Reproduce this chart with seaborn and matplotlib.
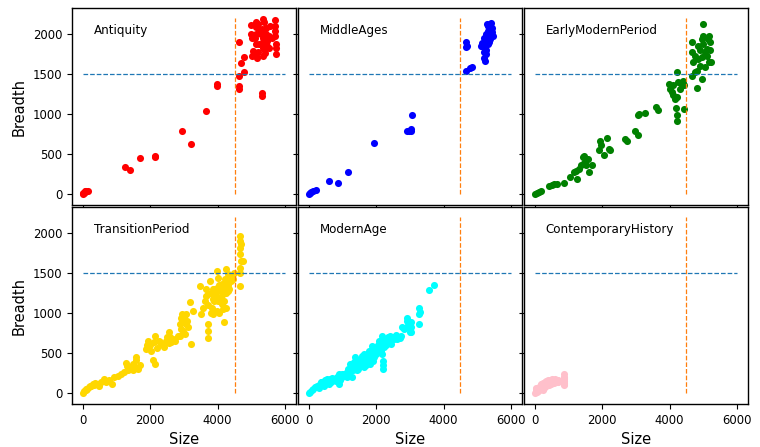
import matplotlib
matplotlib.use("Agg")
import matplotlib.pyplot as plt
import seaborn as sns
import pandas as pd

periods = ["Antiquity", "MiddleAges", "EarlyModernPeriod",
           "TransitionPeriod", "ModernAge", "ContemporaryHistory"]
colors = ["red", "blue", "green", "gold", "cyan", "pink"]

ant_x = [0, 20, 30, 60, 80, 100, 150, 1250, 1400, 1710, 2130, 2150, 2930, 3200, 3650,
         3970, 3970, 4620, 4620, 4645, 4780, 4690, 4790, 4620, 5300, 5300,
         4980, 5030, 5140, 5210, 5330, 5330, 5425, 5425, 5520, 5690, 5690, 5690, 5690,
         5720, 5720, 5720, 5330, 5130, 5180, 5330, 5380, 5230, 5425, 5030, 5475, 5330,
         5520, 5280, 5310, 5380, 5130,
         5000, 5100, 5150, 5250, 5350, 5450, 5550, 5600, 5050, 5200, 5400, 5150]
ant_y = [0, 5, 10, 20, 40, 30, 35, 340, 295, 445, 475, 460, 785, 620, 1035,
         1370, 1345, 1305, 1350, 1470, 1525, 1635, 1710, 1890, 1255, 1225,
         2110, 1940, 2085, 2115, 2180, 2015, 2075, 1990, 1970, 2165, 2095, 2035, 1970,
         1875, 1820, 1750, 1825, 1745, 1700, 1720, 1805, 1870, 1890, 1720, 1910, 1950,
         1825, 1990, 2060, 2150, 2000,
         2000, 1950, 2150, 2050, 1900, 1850, 2100, 1950, 1780, 1770, 1760, 1870]

mid_x = [0, 30, 70, 120, 220, 600, 860, 1170, 1940, 3060, 2920, 2960, 3020, 3040,
         4650, 4650, 4700, 4650, 4770, 4830,
         5320, 5370, 5420, 5320, 5270, 5220, 5120, 5240, 5270, 5220, 5200, 5370, 5470,
         5320, 5420, 5400, 5300, 5250,
         5300, 5350, 5250, 5200, 5150, 5350, 5250, 5200, 5150]
mid_y = [0, 10, 20, 30, 50, 165, 135, 270, 635, 990, 780, 790, 810, 790,
         1890, 1835, 1850, 1535, 1577, 1580,
         2095, 2115, 2075, 2035, 1970, 1910, 1845, 1825, 1745, 1660, 1765, 1930, 1970,
         1870, 2015, 2135, 1980, 1880,
         2120, 2080, 2000, 1950, 1880, 1900, 1800, 1700, 1850]

emp_x = [0, 60, 130, 200, 430, 500, 580, 660, 860, 1055, 1175, 1255, 1225,
         1375, 1475, 1425, 1570, 1520, 1620, 1700, 1475, 1325,
         1920, 1970, 1950, 2130, 2190, 2050, 2220,
         2670, 2745, 2965, 3065, 3065, 3085, 3285, 3590, 3660,
         3990, 4010, 4060, 4110, 4160, 4210, 4180, 4210, 4210, 4230, 4260, 4310, 4420,
         4400, 4440, 4360, 4110,
         4805, 4965, 4655, 4655, 4705, 4755, 4675, 4855, 4955, 5005, 5155, 5205, 5205,
         5155, 5055, 4955, 4855, 4755, 5005, 5105, 4905, 4805, 5055, 5005, 5235, 5150,
         4900, 5100]
emp_y = [0, 12, 25, 33, 100, 115, 120, 125, 135, 210, 275, 180, 285,
         355, 385, 460, 440, 365, 275, 365, 470, 315,
         545, 605, 655, 700, 565, 480, 550,
         690, 655, 780, 730, 980, 1000, 1010, 1080, 1050,
         1375, 1310, 1270, 1230, 1185, 1210, 1070, 990, 915, 1525, 1395, 1310, 1055,
         1415, 1360, 1355, 1355,
         1325, 1430, 1890, 1770, 1645, 1520, 1475, 1850, 1935, 1975, 1975, 1890, 1790,
         1645, 1580, 1705, 1685, 1725, 2120, 1810, 1600, 1540, 1770, 1870, 1650, 1930,
         1800, 1720]

tra_x = [0, 40, 90, 140, 190, 240, 290, 360, 440, 540, 640, 690, 790, 860, 935, 1035,
         1135, 1235, 1285, 1335, 1435, 1485, 1530, 1580, 1630, 1580, 100, 200, 330, 480,
         1880, 1930, 2010, 2080, 2130, 2150, 2250, 2330, 2410, 2480, 2550, 2630, 2680,
         2730, 2810, 2875, 2925, 2945, 3025, 3075, 3125, 3205, 3175, 3275, 3025, 2975,
         2875, 2300, 2600,
         3570, 3620, 3640, 3720, 3770, 3700, 3720, 3720, 3820, 3870, 3920, 3970, 3970,
         4020, 4020, 4070, 4120, 4120, 4170, 4190, 4220, 4240, 4270, 4320, 4320, 4370,
         4420, 3970, 4240, 4470, 3470, 3520, 3870, 4100, 4250, 3900,
         4670, 4670, 4670, 4670, 4700, 4740, 4670, 4670, 4650, 4680,
         2900, 2950, 3000, 3050, 3100, 2000, 2100, 1900, 2200, 2500, 2550, 1700, 1500,
         1400, 1300, 3700, 3800, 3850, 3900, 3950, 4050, 4100, 4150, 4200, 4250, 4300,
         4350, 4400, 4150, 4050, 3800, 3650, 4450]
tra_y = [0, 20, 35, 50, 70, 90, 110, 120, 110, 135, 175, 135, 155, 110, 195, 215,
         235, 255, 370, 285, 320, 360, 320, 405, 300, 445, 50, 80, 100, 90,
         550, 650, 525, 405, 360, 715, 650, 610, 570, 650, 755, 630, 670,
         650, 715, 860, 940, 985, 900, 985, 820, 610, 1130, 1025, 735, 775,
         715, 640, 700,
         1065, 1150, 1210, 1235, 1400, 860, 775, 690, 1065, 1170, 1235, 1315, 1025,
         1150, 1440, 1275, 1355, 1110, 1235, 880, 1420, 1065, 1315, 1480, 1275, 1420,
         1460, 1525, 1545, 1500, 1335, 985, 985, 1200, 1380, 1300,
         1960, 1895, 1815, 1730, 1650, 1650, 1565, 1500, 1330, 1860,
         800, 880, 950, 860, 900, 600, 640, 600, 560, 700, 620, 350, 280,
         300, 330, 1100, 1250, 1300, 1150, 1200, 1350, 1200, 1300, 1150, 1250, 1350,
         1300, 1400, 1050, 1000, 1000, 1300, 1420]

mod_x = [0, 40, 90, 140, 190, 240, 320, 390, 440, 490, 590, 640, 740, 840, 885, 935,
         985, 1085, 1135, 1185, 1235, 1285, 1335, 1385, 1435, 1485, 1530, 1580, 1630,
         1630, 1680, 1730, 1780, 1830, 1880, 1930, 1980, 2030, 2080, 2130, 2180, 2180,
         2210, 2230, 2280, 2330, 2410, 2450, 2480, 2530, 2630, 2730, 2780, 2830, 2925,
         2975, 3005, 3025, 3045, 3275, 3275, 3300, 3275, 3570, 3720, 1050, 1250, 1500,
         1700, 1900, 2000, 2100,
         300, 350, 450, 550, 650, 700, 800, 900, 950, 1100, 1150, 1200, 1300, 1350,
         1400, 1450, 1550, 1600, 1650, 1700, 1750, 1800, 1850, 1900, 1950, 2000, 2050,
         2100, 2150, 2200, 2250, 2300, 2350, 2400, 2600, 2700, 2900, 2950, 3000, 3020,
         2200, 2210]
mod_y = [0, 10, 30, 50, 70, 90, 110, 135, 90, 155, 110, 175, 155, 195, 110, 155,
         235, 215, 195, 255, 360, 195, 320, 445, 280, 405, 360, 465, 320,
         405, 445, 405, 525, 360, 590, 445, 485, 570, 650, 525, 715, 485,
         300, 570, 610, 650, 715, 610, 695, 670, 670, 715, 820, 795, 940,
         880, 755, 820, 880, 1065, 985, 1005, 860, 1280, 1350, 230, 280, 350,
         420, 480, 560, 600,
         60, 140, 100, 170, 130, 190, 150, 230, 180, 250, 300, 210, 280, 380,
         330, 300, 420, 380, 480, 350, 460, 440, 520, 400, 560, 520, 600,
         640, 560, 620, 660, 600, 700, 680, 720, 680, 900, 850, 800, 760,
         350, 400]

con_x = [0, 30, 60, 80, 100, 120, 150, 180, 200, 230, 250, 260, 280, 300, 320, 350,
         380, 400, 420, 450, 480, 500, 520, 560, 600, 640, 650, 680, 860, 860, 870,
         860, 880,
         50, 100, 150, 200, 250, 300, 350, 400, 450, 500, 550, 600, 650, 700, 40,
         860, 880, 850, 870]
con_y = [0, 20, 10, 40, 60, 30, 60, 50, 110, 70, 40, 100, 60, 140, 110, 90,
         120, 160, 100, 130, 110, 170, 140, 120, 175, 130, 165, 140, 100, 150, 200,
         230, 120,
         50, 20, 90, 60, 120, 90, 150, 120, 160, 130, 160, 150, 140, 160, 60,
         180, 170, 130, 110]

xs = [ant_x, mid_x, emp_x, tra_x, mod_x, con_x]
ys = [ant_y, mid_y, emp_y, tra_y, mod_y, con_y]

rows = []
for p, xv, yv in zip(periods, xs, ys):
    for a, b in zip(xv, yv):
        rows.append((p, a, b))
df = pd.DataFrame(rows, columns=["Period", "Size", "Breadth"])

plt.rcParams["font.family"] = ["DejaVu Sans"]
fig, axes = plt.subplots(2, 3, figsize=(7.6, 4.47), dpi=100, sharex=True, sharey=True)
fig.subplots_adjust(left=0.0947, right=0.984, top=0.982, bottom=0.096,
                    wspace=0.009, hspace=0.01)

for ax, p, c in zip(axes.flat, periods, colors):
    sub = df[df["Period"] == p]
    sns.scatterplot(data=sub, x="Size", y="Breadth", ax=ax, color=c,
                    s=26, linewidth=0, alpha=1)
    ax.hlines(1500, 0, 6000, colors="tab:blue", linestyles="--", linewidth=0.9)
    ax.vlines(4500, 0, 2200, colors="tab:orange", linestyles="--", linewidth=0.9)
    ax.text(320, 2000, p, fontsize=8.6)
    ax.set_xlabel("")
    ax.set_ylabel("")
    ax.tick_params(labelsize=8.4, width=0.8, length=3.5)
    for sp in ax.spines.values():
        sp.set_linewidth(1.0)
        sp.set_color("black")

ax0 = axes[0, 0]
ax0.set_xticks([0, 2000, 4000, 6000])
ax0.set_yticks([0, 500, 1000, 1500, 2000])
ax0.set_xlim(-320, 6320)
ax0.set_ylim(-140, 2320)

for ax in axes[:, 0]:
    ax.set_ylabel("Breadth", fontsize=10.5)
for ax in axes[1, :]:
    ax.set_xlabel("Size", fontsize=10.5)

fig.savefig("out.png", dpi=100)
